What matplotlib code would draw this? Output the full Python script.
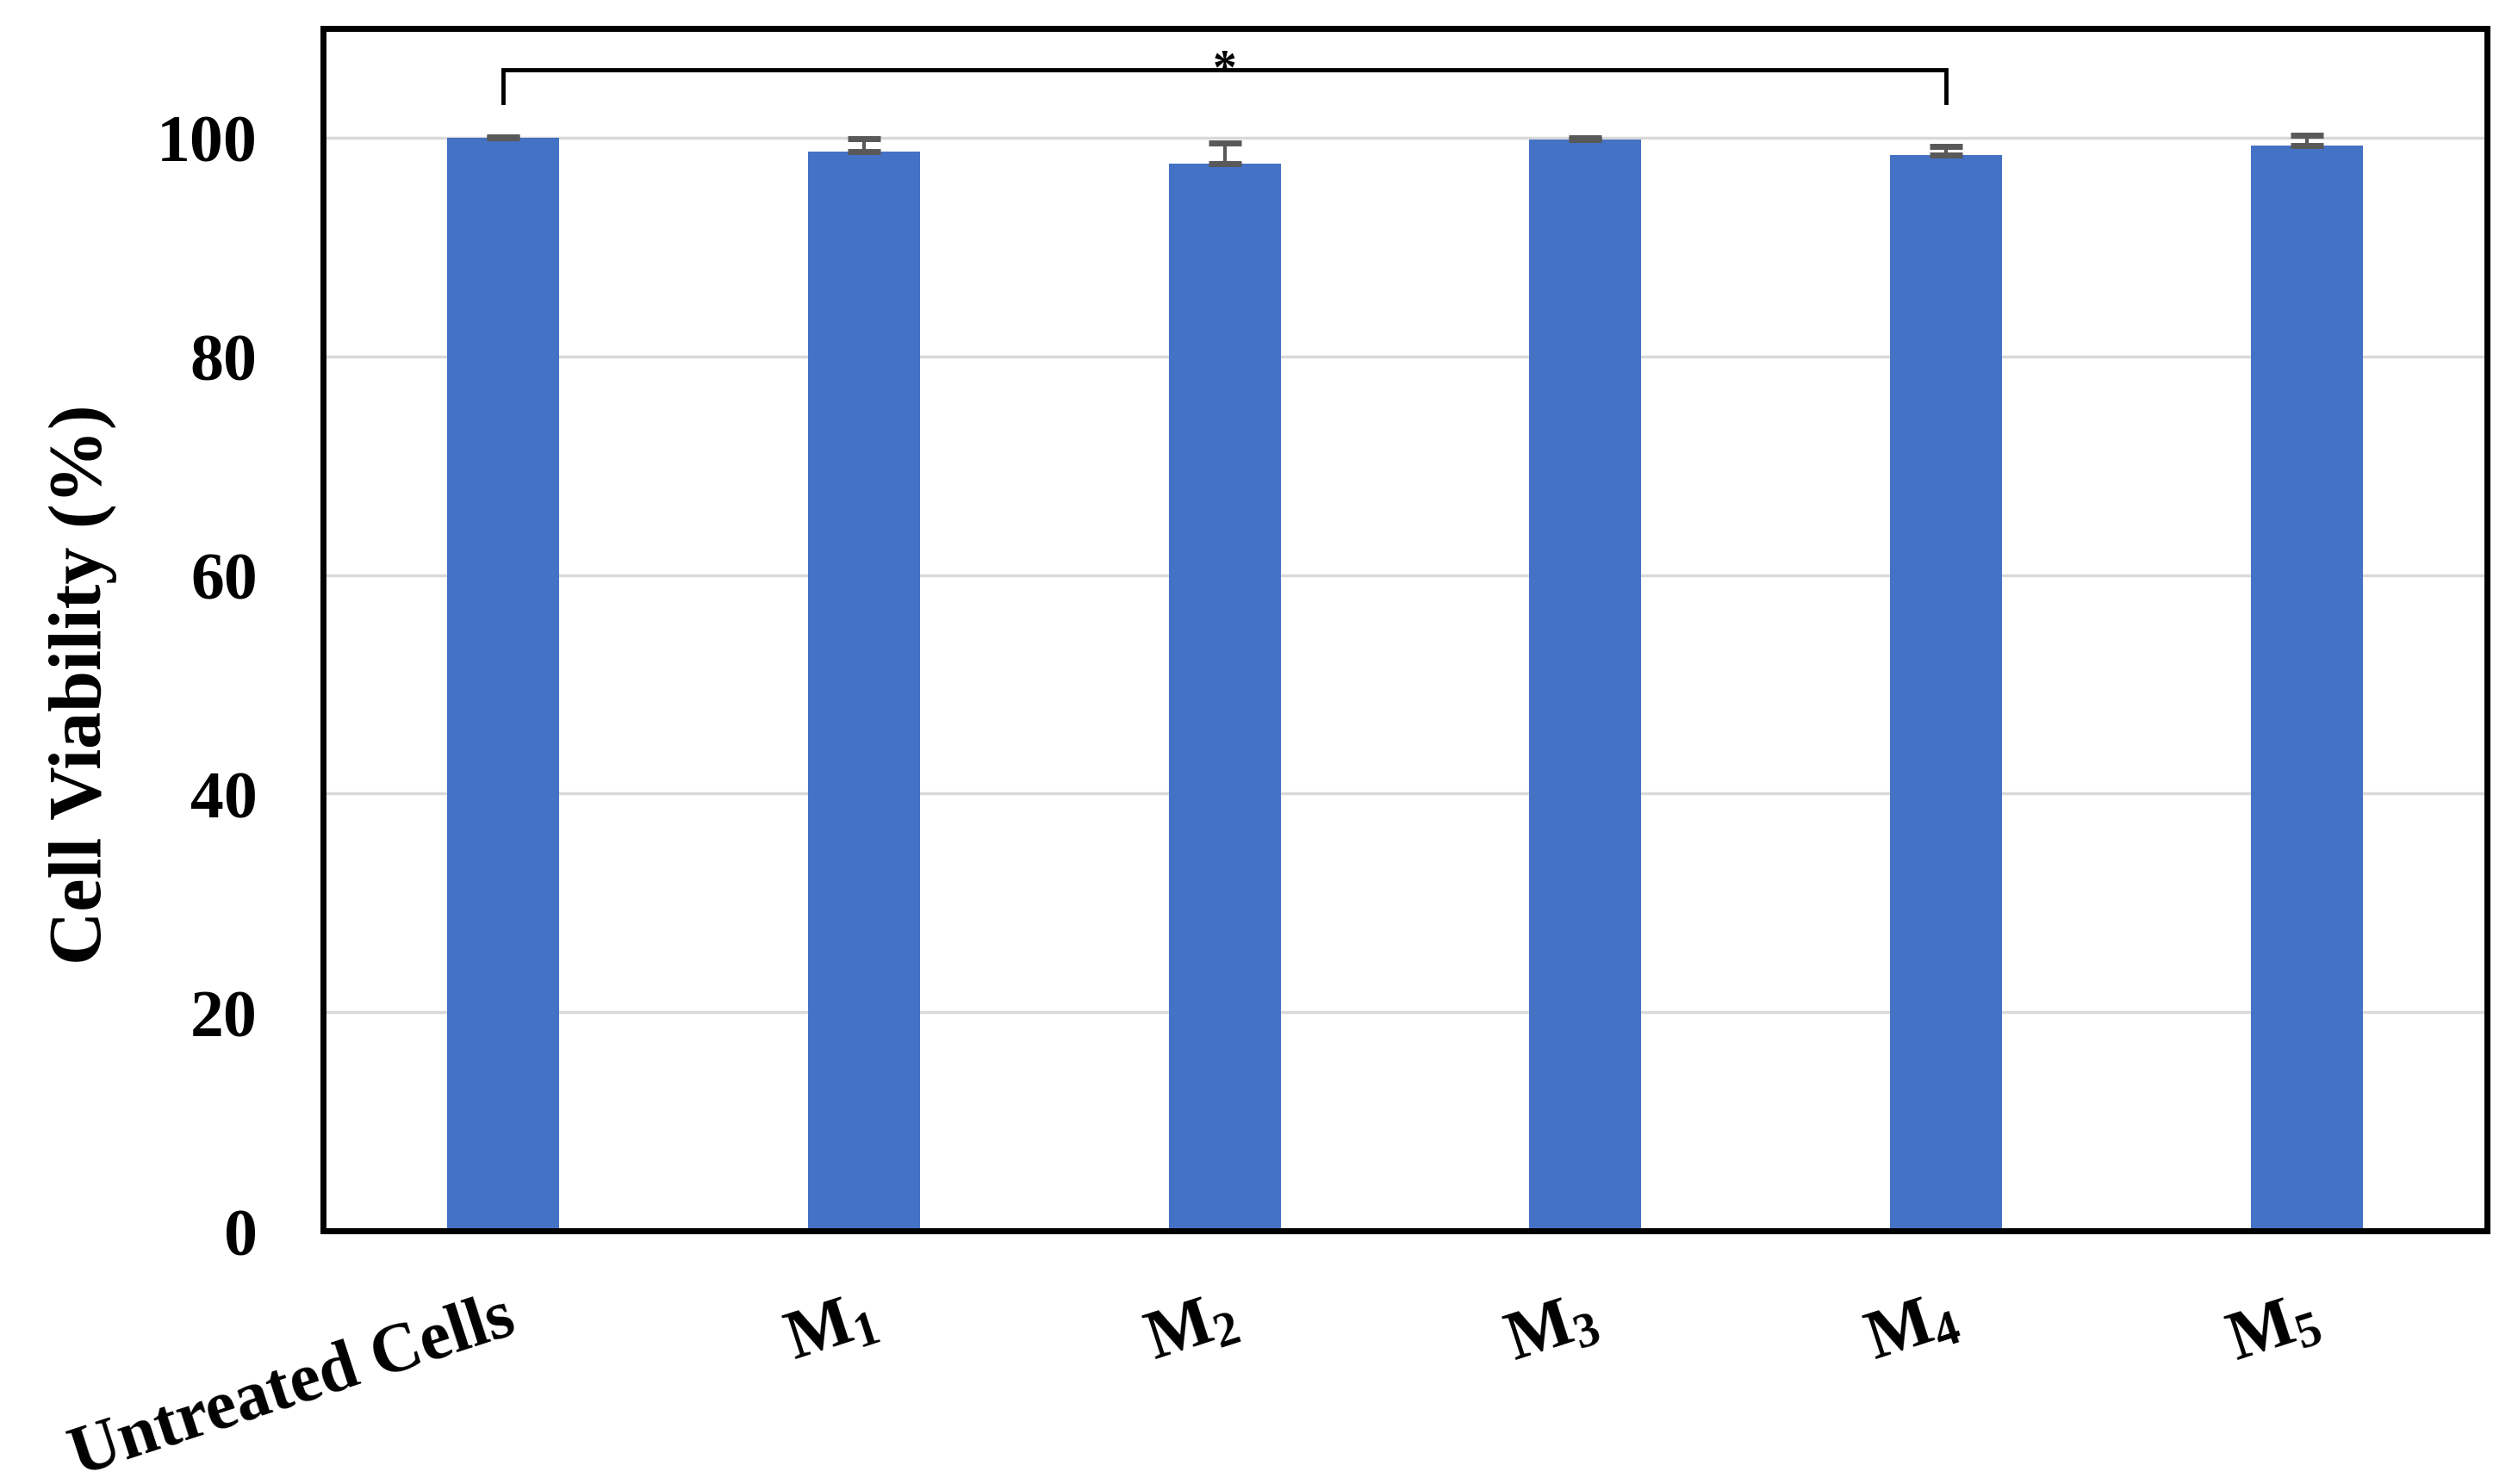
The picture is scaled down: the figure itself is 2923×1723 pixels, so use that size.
import numpy as np
import matplotlib
matplotlib.use('Agg')
import matplotlib.pyplot as plt

plt.rcParams['font.family'] = 'Liberation Serif'
plt.rcParams['font.weight'] = 'bold'
plt.rcParams['mathtext.fontset'] = 'custom'
plt.rcParams['mathtext.rm'] = 'Liberation Serif:bold'
plt.rcParams['mathtext.it'] = 'Liberation Serif:bold'
plt.rcParams['mathtext.bf'] = 'Liberation Serif:bold'

# данные
groups = ['Untreated Cells', r'M$_1$', r'M$_2$', r'M$_3$', r'M$_4$', r'M$_5$']
viability = [100.0, 98.7, 97.6, 99.8, 98.4, 99.3]
err_up = [0.1, 1.2, 1.9, 0.2, 0.8, 0.9]
y_ticks = [0, 20, 40, 60, 80, 100]

fig = plt.figure(figsize=(29.23, 17.24), dpi=100)
ax = fig.add_axes([0.1283, 0.1705, 0.8594, 0.8098])

x = np.arange(len(groups))
ax.bar(x, viability, width=0.31, color='#4472C4', zorder=2)
ax.errorbar(x, viability, yerr=[np.zeros(len(x)), err_up], fmt='none',
            ecolor='#595959', elinewidth=3, capsize=14, capthick=5, zorder=3)

ax.set_xlim(-0.5, len(groups) - 0.5)
ax.set_ylim(0, 110)
ax.set_yticks(y_ticks)
ax.yaxis.grid(True, color='#d9d9d9', linewidth=2.5, zorder=0)
ax.set_axisbelow(True)

ax.set_xticks(x)
ax.set_xticklabels(groups, rotation=18, ha='right', rotation_mode='anchor',
                   fontsize=58, fontweight='bold')
ax.tick_params(axis='x', length=0, pad=46)
ax.tick_params(axis='y', length=0, pad=55, labelsize=56)
for lab in ax.get_yticklabels():
    lab.set_fontweight('bold')

ax.set_ylabel('Cell Viability (%)', fontsize=62, fontweight='bold')
ax.yaxis.set_label_coords(-0.095, 0.455)

for sp in ax.spines.values():
    sp.set_linewidth(5)
    sp.set_color('black')

# скобка значимости между Untreated Cells и M4
ax.plot([0, 0, 4, 4], [103.2, 106.2, 106.2, 103.2], color='black', linewidth=3.5,
        solid_joinstyle='miter', zorder=4)
ax.text(2, 105.0, '*', ha='center', va='baseline', fontsize=40, fontweight='bold')

fig.savefig('out.png', dpi=100)
